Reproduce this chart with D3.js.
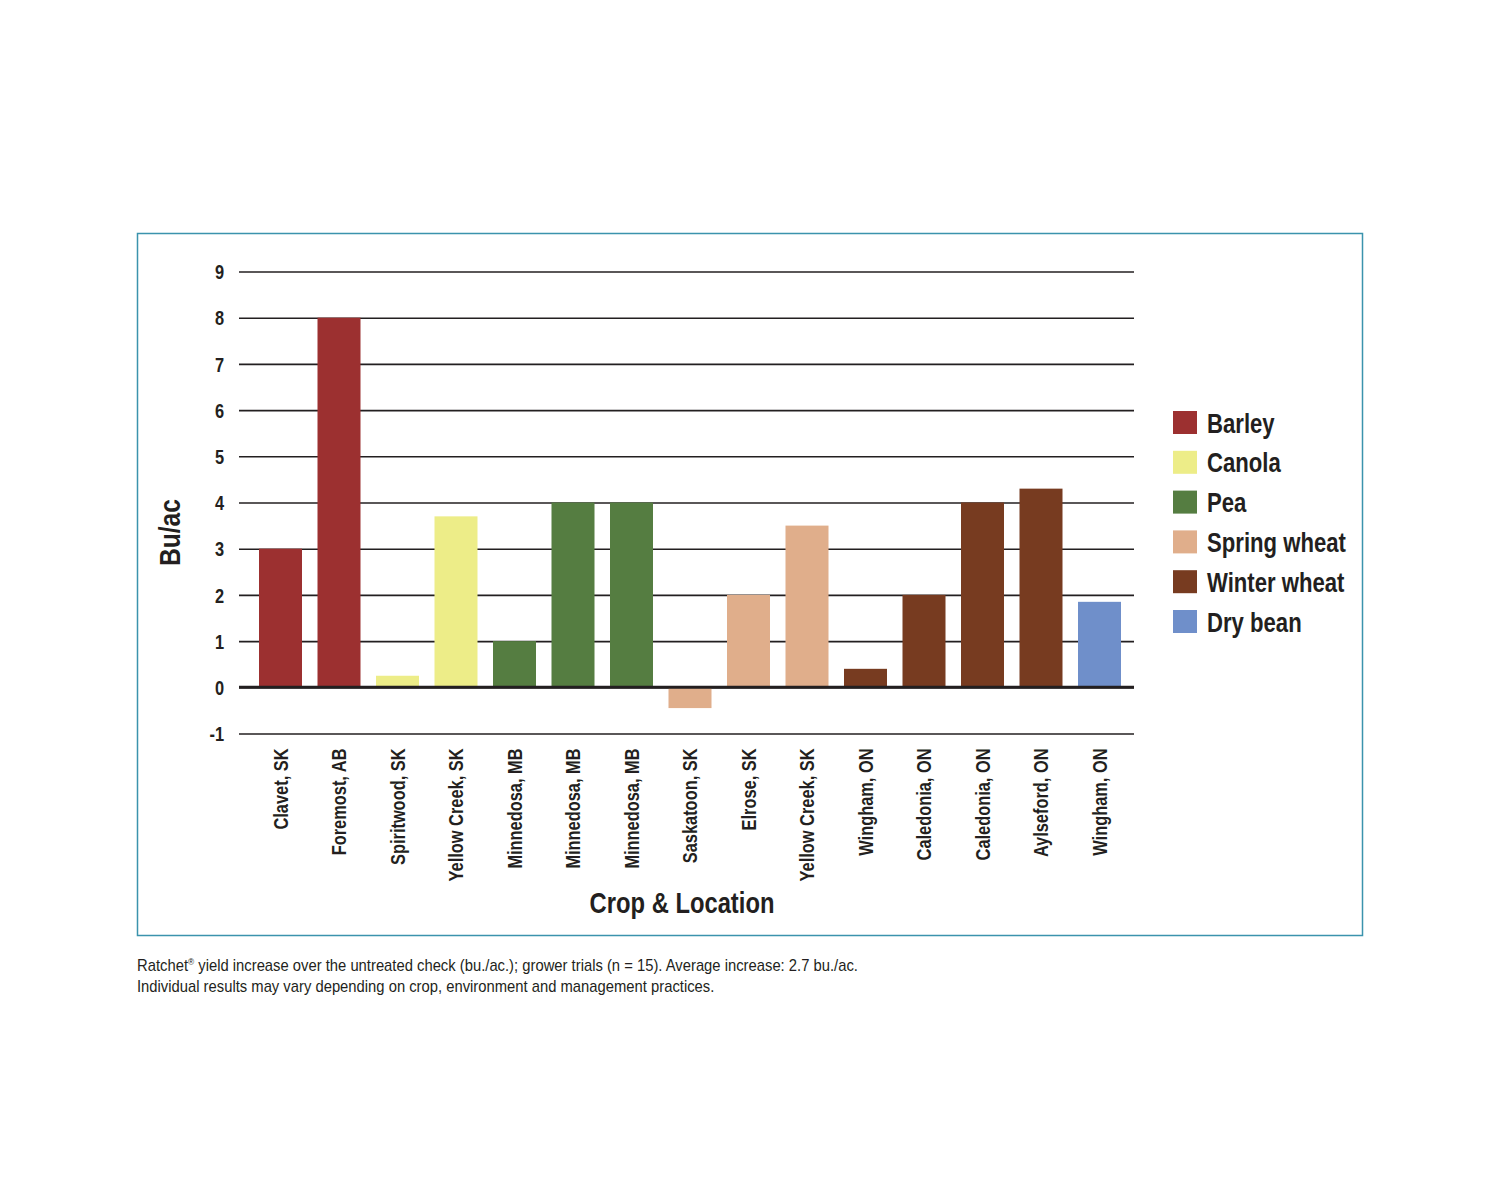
<!DOCTYPE html>
<html>
<head>
<meta charset="utf-8">
<script src="https://cdn.jsdelivr.net/npm/d3@7"></script>
<style>
  body { margin: 0; background: #fff; }
  svg text { font-family: "Liberation Sans", Arial, sans-serif; fill: #231f20; }
</style>
</head>
<body>
<div id="chart-area"></div>
<script>
// Ratchet yield increase by crop and location

const locations = ['Clavet, SK', 'Foremost, AB', 'Spiritwood, SK', 'Yellow Creek, SK', 'Minnedosa, MB',
  'Minnedosa, MB', 'Minnedosa, MB', 'Saskatoon, SK', 'Elrose, SK', 'Yellow Creek, SK', 'Wingham, ON',
  'Caledonia, ON', 'Caledonia, ON', 'Aylseford, ON', 'Wingham, ON'];
const crops = ['Barley', 'Barley', 'Canola', 'Canola', 'Pea', 'Pea', 'Pea', 'Spring wheat', 'Spring wheat',
  'Spring wheat', 'Winter wheat', 'Winter wheat', 'Winter wheat', 'Winter wheat', 'Dry bean'];
const yields = [3.0, 8.0, 0.25, 3.7, 1.0, 4.0, 4.0, -0.45, 2.0, 3.5, 0.4, 2.0, 4.0, 4.3, 1.85];

const cropNames = ['Barley', 'Canola', 'Pea', 'Spring wheat', 'Winter wheat', 'Dry bean'];
const cropColors = ['#9c3030', '#eded88', '#557d41', '#e0ae8b', '#773b20', '#6f8fca'];
const yTicks = [-1, 0, 1, 2, 3, 4, 5, 6, 7, 8, 9];

const data = locations.map((loc, i) => ({ id: i, location: loc, crop: crops[i], value: yields[i] }));

// squeeze regular sans into a condensed look
const narrow = 'scale(0.82,1)';

const W = 1500, H = 1200;
const svg = d3.select('#chart-area')
  .append('svg')
    .attr('width', W)
    .attr('height', H);

// frame
svg.append('rect')
  .attr('x', 137.5).attr('y', 233.5)
  .attr('width', 1225).attr('height', 702)
  .attr('fill', 'none')
  .attr('stroke', '#3b93ad')
  .attr('stroke-width', 1.5);

const x = d3.scaleBand()
  .domain(data.map(d => d.id))
  .range([251.25, 1128.75])
  .paddingInner(0.265)
  .paddingOuter(0.1325);

const y = d3.scaleLinear()
  .domain([-1, 9])
  .range([733.5, 271.5]);

const color = d3.scaleOrdinal()
  .domain(cropNames)
  .range(cropColors);

// gridlines + tick labels
const yAxisCall = d3.axisLeft(y)
  .tickValues(yTicks)
  .tickSize(-(1134 - 239))
  .tickFormat(d => String(d));

const yAxisGroup = svg.append('g')
  .attr('transform', 'translate(239,0)')
  .call(yAxisCall);

yAxisGroup.select('.domain').remove();
yAxisGroup.selectAll('.tick line')
  .attr('stroke', '#231f20')
  .attr('stroke-width', 1.6);
yAxisGroup.selectAll('.tick text')
  .attr('x', 0)
  .attr('dy', '0.36em')
  .attr('transform', 'translate(-15,0) ' + narrow)
  .attr('font-size', 20)
  .attr('font-weight', 'bold')
  .attr('fill', '#231f20');

// bars
svg.append('g').selectAll('rect')
  .data(data)
  .enter()
  .append('rect')
    .attr('x', d => x(d.id))
    .attr('y', d => y(Math.max(0, d.value)))
    .attr('width', x.bandwidth())
    .attr('height', d => Math.abs(y(d.value) - y(0)))
    .attr('fill', d => color(d.crop));

// zero line
svg.append('line')
  .attr('x1', 239).attr('x2', 1134)
  .attr('y1', y(0)).attr('y2', y(0))
  .attr('stroke', '#231f20')
  .attr('stroke-width', 3);

// x labels (rotated)
const xAxisCall = d3.axisBottom(x)
  .tickSize(0)
  .tickFormat(i => locations[i]);

const xAxisGroup = svg.append('g')
  .attr('transform', 'translate(0,' + y(-1) + ')')
  .call(xAxisCall);

xAxisGroup.select('.domain').remove();
xAxisGroup.selectAll('.tick text')
  .attr('transform', 'rotate(-90) translate(-15,0) ' + narrow)
  .attr('x', 0)
  .attr('y', 0)
  .attr('dy', '0.36em')
  .attr('text-anchor', 'end')
  .attr('font-size', 20)
  .attr('font-weight', 'bold')
  .attr('fill', '#231f20');

// axis titles
svg.append('text')
  .attr('transform', 'translate(682,913) ' + narrow)
  .attr('text-anchor', 'middle')
  .attr('font-size', 29)
  .attr('font-weight', 'bold')
  .text('Crop & Location');

svg.append('text')
  .attr('transform', 'translate(180,532.5) rotate(-90) ' + narrow)
  .attr('text-anchor', 'middle')
  .attr('font-size', 30)
  .attr('font-weight', 'bold')
  .text('Bu/ac');

// legend
const legend = svg.append('g')
  .attr('transform', 'translate(1173,411)');

const rows = legend.selectAll('g')
  .data(cropNames)
  .enter()
  .append('g')
    .attr('transform', (d, i) => 'translate(0,' + i * 39.8 + ')');

rows.append('rect')
  .attr('width', 24).attr('height', 23)
  .attr('fill', d => color(d));

rows.append('text')
  .attr('transform', 'translate(34,21.5) ' + narrow)
  .attr('font-size', 27)
  .attr('font-weight', 'bold')
  .text(d => d);

// footnote
const note = svg.append('g')
  .attr('transform', 'translate(137,0) scale(0.925,1)')
  .attr('font-size', 16);

const line1 = note.append('text')
  .attr('x', 0).attr('y', 971);
line1.append('tspan').text('Ratchet');
line1.append('tspan').attr('font-size', 9).attr('dy', -6).text('®');
line1.append('tspan').attr('dy', 6).text(' yield increase over the untreated check (bu./ac.); grower trials (n = 15). Average increase: 2.7 bu./ac.');

note.append('text')
  .attr('x', 0).attr('y', 992)
  .text('Individual results may vary depending on crop, environment and management practices.');
</script>
</body>
</html>
